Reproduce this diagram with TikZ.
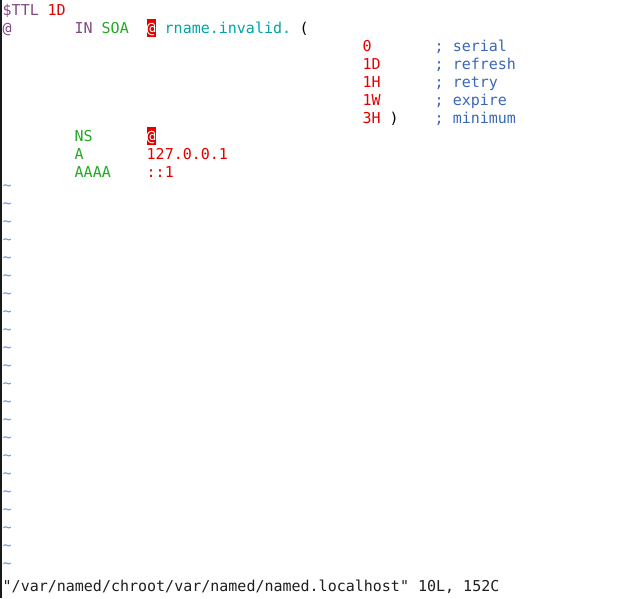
\documentclass[tikz,border=0pt]{standalone}
\usepackage{fontspec}
\newfontfamily\vimfont{DejaVu Sans Mono}

\definecolor{vimpurple}{RGB}{129,74,129}
\definecolor{vimgreen}{RGB}{36,168,36}
\definecolor{vimred}{RGB}{226,0,0}
\definecolor{vimteal}{RGB}{0,164,164}
\definecolor{vimblue}{RGB}{58,104,182}
\definecolor{vimtilde}{RGB}{104,152,222}
\definecolor{vimbar}{RGB}{22,26,26}

\tikzset{
  tok/.style={anchor=base west, inner sep=0pt, font=\vimfont\fontsize{15}{18}\selectfont},
  atbox/.style={tok, fill=vimred, text=white, text height=14pt, text depth=4pt, minimum width=9pt}
}

\begin{document}
\begin{tikzpicture}[x=1pt,y=1pt,yscale=-1,xscale=1]
		\useasboundingbox[fill=white] (0,0) rectangle (619,598);

		% Dark bar along the left edge of the window
		\fill[vimbar] (0,0) rectangle (2,598);

		% Line 1: $TTL 1D
		\node[tok, vimpurple] (ttl) at (2.5,15) {\$TTL};
		\node[tok, vimred] (ttlval) at (47.5,15) {1D};

		% Line 2: @ IN SOA @ rname.invalid. (
		\node[tok, vimpurple] (origin) at (2.5,33) {@};
		\node[tok, vimpurple] (class) at (74.5,33) {IN};
		\node[tok, vimgreen] (soa) at (101.5,33) {SOA};
		\node[atbox] (soaorigin) at (146.5,33) {@};
		\node[tok, vimteal] (rname) at (164.5,33) {rname.invalid.};
		\node[tok, black] (lparen) at (299.5,33) {(};

		% SOA values in red, comments in blue
		\node[tok, vimred] (serial) at (362.5,51) {0};
		\node[tok, vimred] (refresh) at (362.5,69) {1D};
		\node[tok, vimred] (retry) at (362.5,87) {1H};
		\node[tok, vimred] (expire) at (362.5,105) {1W};
		\node[tok, vimred] (minimum) at (362.5,123) {3H};
		\node[tok, black] (rparen) at (389.5,123) {)};
		\node[tok, vimblue] (serialc) at (434.5,51) {;\ serial};
		\node[tok, vimblue] (refreshc) at (434.5,69) {;\ refresh};
		\node[tok, vimblue] (retryc) at (434.5,87) {;\ retry};
		\node[tok, vimblue] (expirec) at (434.5,105) {;\ expire};
		\node[tok, vimblue] (minimumc) at (434.5,123) {;\ minimum};

		% Records NS, A, AAAA
		\node[tok, vimgreen] (ns) at (74.5,141) {NS};
		\node[atbox] (nsorigin) at (146.5,141) {@};
		\node[tok, vimgreen] (a) at (74.5,159) {A};
		\node[tok, vimred] (aval) at (146.5,159) {127.0.0.1};
		\node[tok, vimgreen] (aaaa) at (74.5,177) {AAAA};
		\node[tok, vimred] (aaaaval) at (146.5,177) {::1};

		% Empty lines marked with a tilde
		\foreach \r in {0,...,21}
			\node[tok, vimtilde] (tilde\r) at (2.5,{190+18*\r}) {\textasciitilde};

		% Status line
		\node[tok, black!88] (status) at (2.5,591) {"/var/named/chroot/var/named/named.localhost"\ 10L,\ 152C};
	\end{tikzpicture}
\end{document}
